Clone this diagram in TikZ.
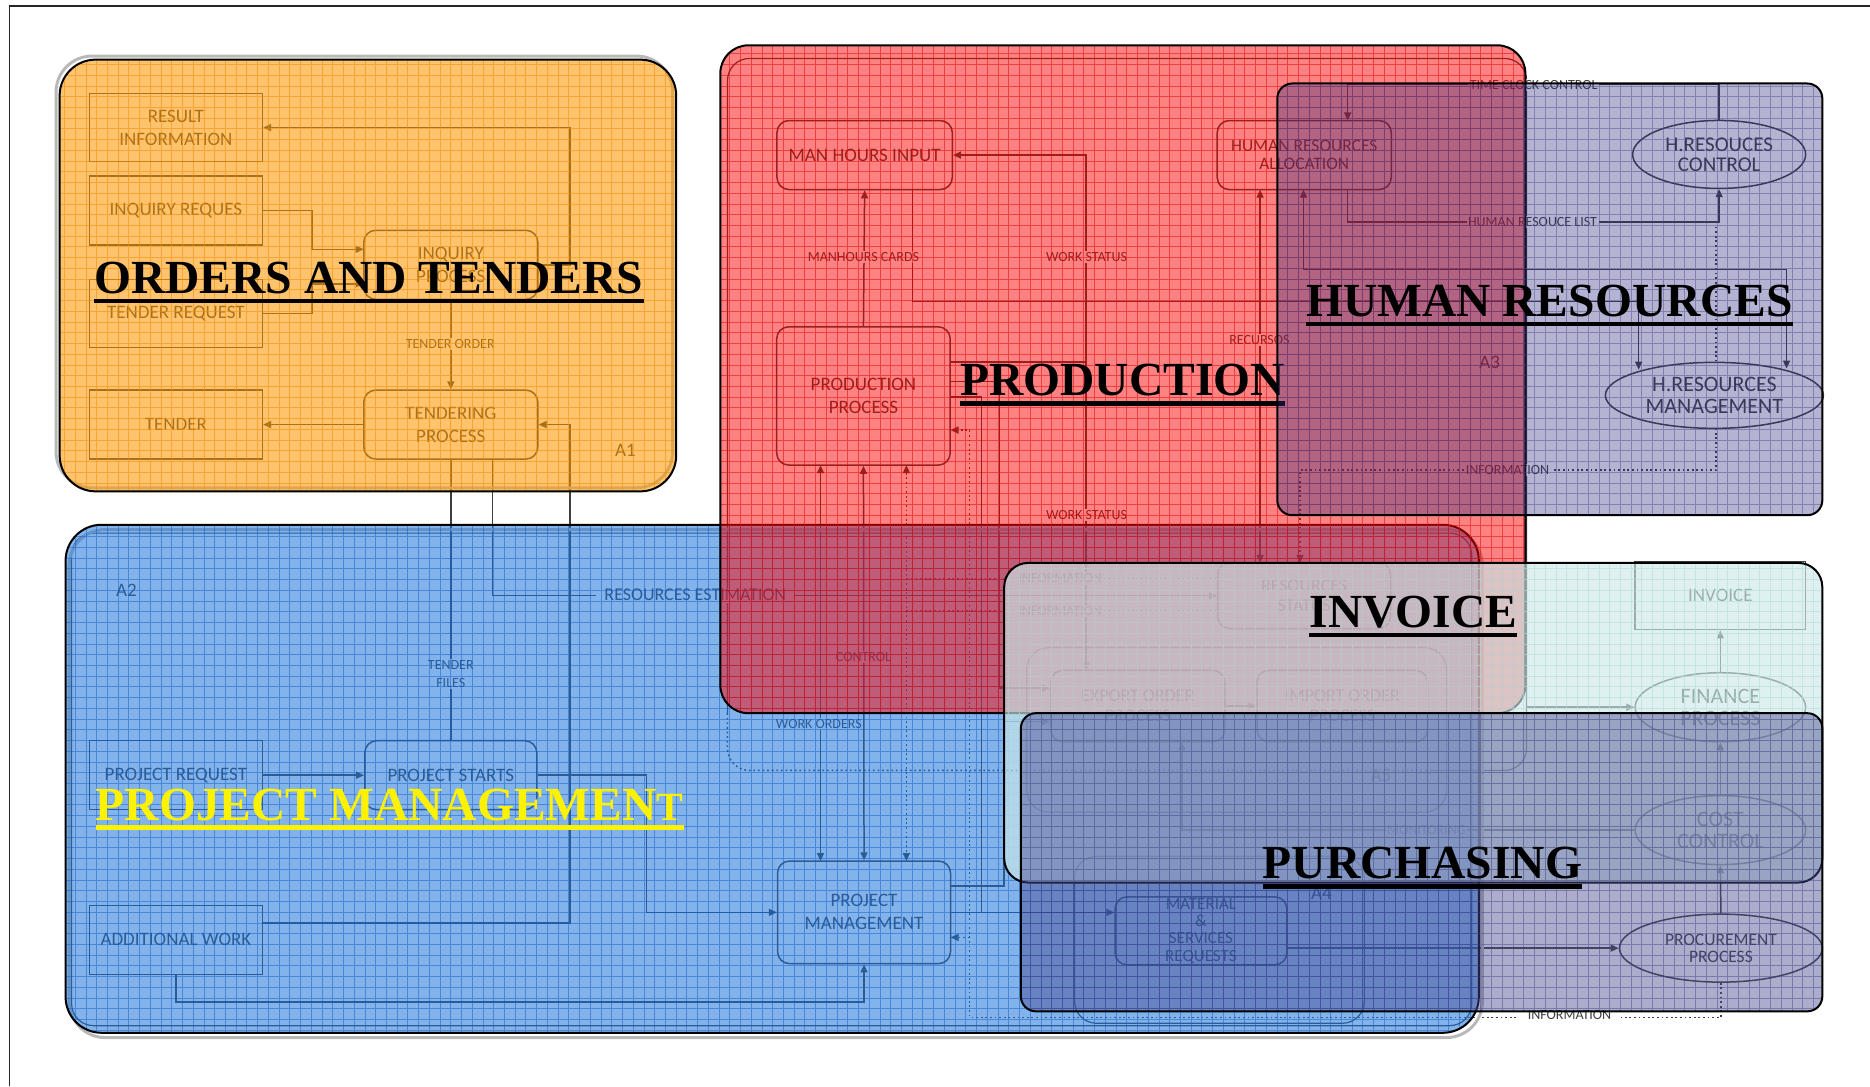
\documentclass[tikz,border=0pt]{standalone}
\usepackage{fontspec}
\setmainfont{Liberation Serif}
\newfontfamily\labfont{Carlito}
\usetikzlibrary{arrows.meta,shapes.geometric}
\definecolor{ink}{RGB}{62,62,62}
\definecolor{orC}{RGB}{255,150,0}
\definecolor{orG}{RGB}{240,140,0}
\definecolor{blC}{RGB}{28,119,219}
\definecolor{blG}{RGB}{20,90,200}
\definecolor{rdC}{RGB}{255,0,0}
\definecolor{rdG}{RGB}{220,0,0}
\definecolor{hrC}{RGB}{47,47,130}
\definecolor{hrG}{RGB}{70,70,140}
\definecolor{ivC}{RGB}{204,232,232}
\definecolor{ivG}{RGB}{180,220,222}
\definecolor{puC}{RGB}{71,71,142}
\definecolor{puG}{RGB}{60,60,130}
\newcommand{\myregion}[9]{%
  \fill[#1,fill opacity=#2,rounded corners=#8] (#4,#5) rectangle (#6,#7);
  \begin{scope}
    \clip[rounded corners=#8] (#4,#5) rectangle (#6,#7);
    \draw[#3,draw opacity=#9,line width=0.6pt,step=10.73pt] (#4,#5) grid (#6,#7);
  \end{scope}
  \draw[black,line width=2pt,rounded corners=#8] (#4,#5) rectangle (#6,#7);
}
\begin{document}
\begin{tikzpicture}[x=1.1926pt,y=-1.1926pt,
  box/.style={draw=ink,line width=1.5pt,inner sep=0pt,align=center,text=ink,font=\labfont\fontsize{19}{23}\selectfont},
  rbox/.style={box,rounded corners=12pt},
  ell/.style={box,ellipse},
  lbl/.style={text=ink,fill=white,inner sep=1.5pt,align=center,font=\labfont\fontsize{14}{18}\selectfont},
  alab/.style={text=ink,inner sep=0pt,font=\labfont\fontsize{19}{21}\selectfont},
  wire/.style={draw=ink,line width=1.5pt},
  arr/.style={wire,-{Triangle[length=8pt,width=7pt]}},
  darr/.style={wire,{Triangle[length=8pt,width=7pt]}-{Triangle[length=8pt,width=7pt]}},
  dots/.style={wire,dash pattern=on 1.8pt off 2.8pt},
  frm/.style={draw=ink,line width=1.2pt,rounded corners=22pt},
  ttl/.style={anchor=base west,inner sep=0pt,font=\bfseries\fontsize{47.5}{52}\selectfont},
  uline/.style={line width=4.5pt}
]
\useasboundingbox (0,0) rectangle (1568,911);
\draw[black!85,line width=1.6pt] (1568,5) -- (8,5) -- (8,911);

% ---------------- underlying diagram ----------------
% frames
\draw[frm] (610,598) -- (610,49) -- (1280,49) -- (1280,598);
\draw[frm,dots] (610,598) -- (610,646) -- (1200,646);
\draw[frm] (1200,646) -- (1280,646) -- (1280,598);
\draw[frm] (60,447) rectangle (1234,860);
\draw[frm] (861,543) rectangle (1213,681);
\draw[frm] (901,718) rectangle (1144,858);

% orders and tenders
\node[box,minimum width=173pt,minimum height=68pt] (ri) at (147.5,107) {RESULT\\INFORMATION};
\node[box,minimum width=173pt,minimum height=69pt] (iq) at (147.5,176.5) {INQUIRY REQUES};
\node[rbox,minimum width=174pt,minimum height=69pt] (ip) at (378,222) {INQUIRY\\PROCESS};
\node[box,minimum width=173pt,minimum height=68pt] (tr) at (147.5,263) {TENDER REQUEST};
\node[box,minimum width=173pt,minimum height=69pt] (tn) at (147.5,356) {TENDER};
\node[rbox,minimum width=174pt,minimum height=69pt] (tp) at (378,356) {TENDERING\\PROCESS};
\node[alab] (a1) at (524.5,377.5) {A1};

% project management
\node[box,minimum width=173pt,minimum height=69pt] (pr) at (147.5,650) {PROJECT REQUEST};
\node[rbox,minimum width=172pt,minimum height=69pt] (ps) at (378,650) {PROJECT STARTS};
\node[box,minimum width=173pt,minimum height=69pt] (aw) at (147.5,788) {ADDITIONAL WORK};
\node[rbox,minimum width=173pt,minimum height=102.6pt] (pm) at (724.5,765) {PROJECT\\MANAGEMENT};
\node[alab] (a2) at (106,495) {A2};

% production
\node[rbox,minimum width=175.3pt,minimum height=69pt] (mhi) at (725,130) {MAN HOURS INPUT};
\node[rbox,minimum width=174pt,minimum height=69pt,font=\labfont\fontsize{17.5}{18}\selectfont] (hra) at (1093.6,130) {HUMAN RESOURCES\\ALLOCATION};
\node[rbox,minimum width=173.5pt,minimum height=138.3pt] (pp) at (724,332) {PRODUCTION\\PROCESS};

% human resources
\node[ell,minimum width=173pt,minimum height=68pt,font=\labfont\fontsize{21}{20}\selectfont] (hrc) at (1441.5,129.5) {H.RESOUCES\\CONTROL};
\node[ell,minimum width=218pt,minimum height=66pt,font=\labfont\fontsize{22}{22}\selectfont] (hrm) at (1437.5,331.5) {H.RESOURCES\\MANAGEMENT};
\node[alab] (a3) at (1249,304) {A3};

% invoice / purchasing
\node[rbox,minimum width=173pt,minimum height=65.6pt,font=\labfont\fontsize{18}{20}\selectfont] (res) at (1093.5,499.5) {RESOURCES\\STATUS};
\node[rbox,minimum width=174pt,minimum height=71.5pt,font=\labfont\fontsize{18}{20}\selectfont] (exo) at (954,592) {EXPORT ORDER\\PROCESS};
\node[rbox,minimum width=170.5pt,minimum height=71.5pt,font=\labfont\fontsize{18}{20}\selectfont] (imo) at (1125.5,592) {IMPORT ORDER\\PROCESS};
\node[alab] (a5) at (1158,650) {A5};
\node[box,minimum width=170.5pt,minimum height=68pt] (inv) at (1442.5,499.5) {INVOICE};
\node[ell,minimum width=170.5pt,minimum height=69pt,font=\labfont\fontsize{22}{22}\selectfont] (fin) at (1442.5,593) {FINANCE\\PROCESS};
\node[ell,minimum width=170.5pt,minimum height=69pt,font=\labfont\fontsize{22}{22}\selectfont] (cost) at (1442.5,696) {COST\\CONTROL};
\node[ell,minimum width=203pt,minimum height=68pt,font=\labfont\fontsize{17.5}{17}\selectfont] (proc) at (1443,795) {PROCUREMENT\\PROCESS};
\node[rbox,minimum width=171.7pt,minimum height=68pt,font=\labfont\fontsize{17}{17.3}\selectfont] (msr) at (1007,780.5) {MATERIAL\\\&\\SERVICES\\REQUESTS};
\node[alab] (a4) at (1108,749) {A4};

% connectors: orders and tenders
\draw[arr] (iq.east) -- (261.5,176.5) -- (261.5,209) -- (305,209);
\draw[arr] (tr.east) -- (261.5,263) -- (261.5,238) -- (305,238);
\draw[arr] (ip.east) -| (478,107) -- (ri.east);
\draw[arr] (ip.south) -- (tp.north);
\draw[arr] (tp.west) -- (tn.east);
\draw[arr] (220,774) -| (478,356) -- (tp.east);
% project management
\draw[wire] (tp.south) -- (ps.north);
\draw[arr] (413,385) |- (res.west);
\draw[arr] (pr.east) -- (ps.west);
\draw[arr] (ps.east) -| (542,765) -- (pm.west);
\draw[arr] (aw.south) |- (724.5,840) -- (pm.south);
\draw[darr] (688,390) -- (688,722);
\draw[darr] (pp.south) -- (pm.north);
\draw[darr,dots] (760,390) -- (760,722);
% production
\draw[arr] (pp.north) -- (mhi.south);
\draw[arr] (765,159) |- (1374,253) -- (1374,310);
\draw[darr] (1093,159) |- (1498,226) -- (1498,309);
\draw[darr] (910.7,562) -- (910.7,130) -- (mhi.east);
\draw[wire] (797,303.6) -- (910.7,303.6);
\draw[wire] (797,333) -| (823,765);
\draw[arr] (797,320) -| (838,577) -- (exo.west |- 0,577);
\draw[arr] (797,743) -| (842,605) -- (exo.west |- 0,605);
\draw[arr] (797,765) -- (msr.west |- 0,765);
\draw[darr] (1056.6,159) -- (1056.6,472);
% dotted information lines
\draw[dots,-{Triangle[length=8pt,width=7pt]}] (proc.south) -- (1443,853) -- (813,853) -- (813,360.6) -- (797,360.6);
\draw[dots,-{Triangle[length=8pt,width=7pt]}] (813,786) -- (797,786);
\draw[dots] (760,485) -- (1021,485);
\draw[dots] (760,512) -- (1021,512);
\draw[dots,-{Triangle[length=8pt,width=7pt]}] (1439,359) -- (1439,394) -- (1090,394) -- (1090,472);
\draw[dots] (1439,190) -- (1439,303);
% human resources
\draw[arr] (hrc.north) |- (1130,71) -- (1130,101);
\draw[arr] (1130,159) |- (1441.5,186) -- (hrc.south);
% invoice / purchasing
\draw[arr] (exo.east) -- (imo.west);
\draw[arr] (1280,593) -- (fin.west);
\draw[arr] (cost.west) -| (991,622);
\draw[arr] (1079,795) -- (proc.west);
\draw[arr] (proc.north) -- (cost.south);
\draw[arr] (cost.north) -- (fin.south);
\draw[arr] (fin.north) -- (inv.south);

% connector labels
\node[lbl] (l1) at (377.5,288.5) {TENDER ORDER};
\node[lbl] (l2) at (378,565) {TENDER\\FILES};
\node[lbl,font=\labfont\fontsize{18}{20}\selectfont,inner xsep=8pt] (l3) at (583,499) {RESOURCES ESTIMATION};
\node[lbl] (l4) at (724,551) {CONTROL};
\node[lbl] (l5) at (686.6,607) {WORK ORDERS};
\node[lbl] (l6) at (724,215.7) {MANHOURS CARDS};
\node[lbl] (l7) at (911,215.7) {WORK STATUS};
\node[lbl] (l8) at (911,432) {WORK STATUS};
\node[lbl] (l9) at (1056,285) {RECURSOS};
\node[lbl] (l10) at (1286,71) {TIME CLOCK CONTROL};
\node[lbl] (l11) at (1285,186) {HUMAN RESOUCE LIST};
\node[lbl] (l12) at (1264,394) {INFORMATION};
\node[lbl] (l13) at (889,485) {INFORMATION};
\node[lbl] (l14) at (889,512) {INFORMATION};
\node[lbl] (l15) at (1196,696) {MONITORING};
\node[lbl,inner xsep=10pt] (l16) at (1316,851) {INFORMATION};

% ---------------- overlays ----------------
\draw[gray!55,line width=3pt,rounded corners=36pt] (47,47) rectangle (564,409);
\myregion{orC}{.57}{orG}{50}{50}{567}{412}{36pt}{.55}
\node[ttl] (t1) at (79,246) {ORDERS AND TENDERS};
\draw[uline] ([yshift=-7.5pt]t1.base west) -- ([yshift=-7.5pt]t1.base east);

\draw[gray!55,line width=3pt,rounded corners=36pt] (58,444) rectangle (1243,870);
\myregion{blC}{.55}{blG}{55}{440}{1240}{866}{36pt}{.5}
\node[ttl,text=yellow] (t6) at (80.3,687.6) {PROJECT MANAGEMEN{\fontsize{40}{40}\selectfont T}};
\draw[uline,yellow] ([yshift=-7.5pt]t6.base west) -- ([yshift=-7.5pt]t6.base east);

\myregion{rdC}{.49}{rdG}{604}{38}{1279}{598}{28pt}{.5}
\node[ttl] (t2) at (805,332) {PRODUCTION};
\draw[uline] ([yshift=-7.5pt]t2.base west) -- ([yshift=-7.5pt]t2.base east);

\myregion{hrC}{.36}{hrG}{1071}{70}{1528}{432}{15pt}{.45}
\node[ttl] (t3) at (1095,265.5) {HUMAN RESOURCES};
\draw[uline] ([yshift=-7.5pt]t3.base west) -- ([yshift=-7.5pt]t3.base east);

\myregion{ivC}{.65}{ivG}{842}{472}{1528}{740}{24pt}{.6}
\node[ttl] (t4) at (1098,526.3) {INVOICE};
\draw[uline] ([yshift=-7.5pt]t4.base west) -- ([yshift=-7.5pt]t4.base east);

\myregion{puC}{.45}{puG}{856}{598}{1528}{848}{15pt}{.45}
\node[ttl] (t5) at (1058.6,737) {PURCHASING};
\draw[uline] ([yshift=-7.5pt]t5.base west) -- ([yshift=-7.5pt]t5.base east);
\end{tikzpicture}
\end{document}
